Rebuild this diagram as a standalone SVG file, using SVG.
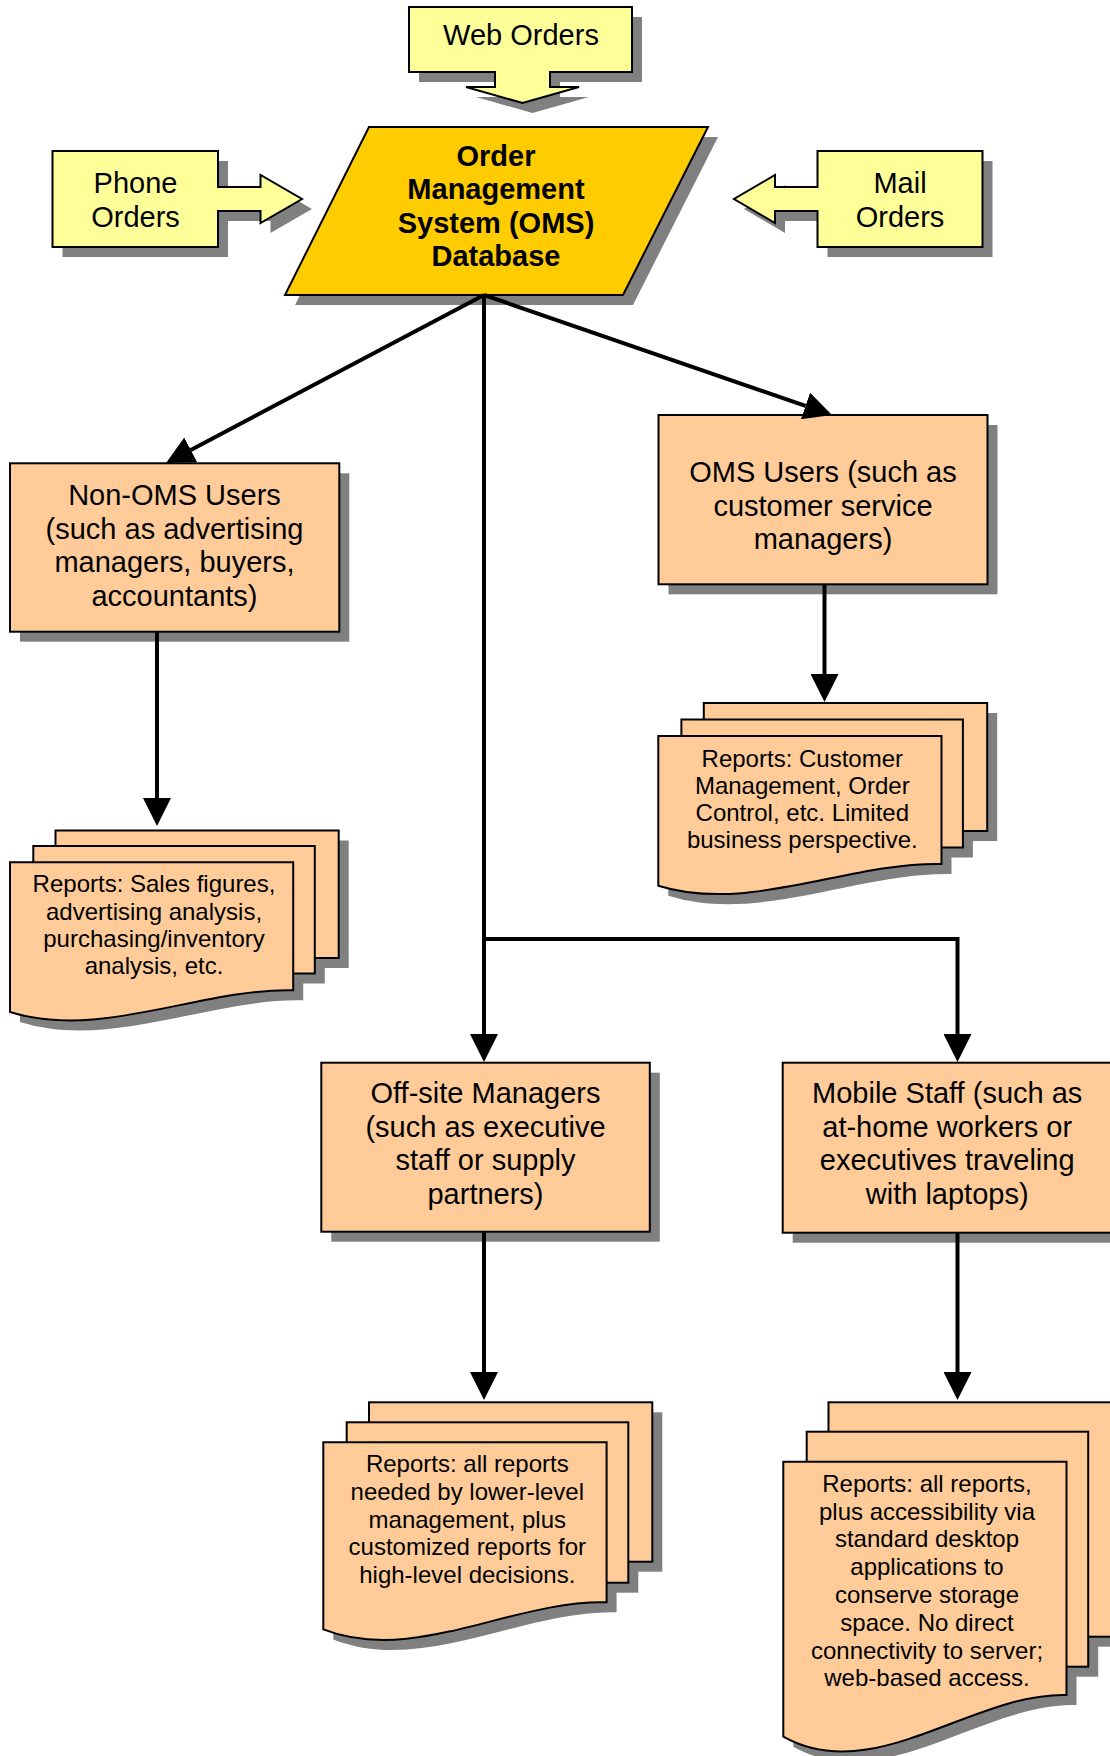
<svg xmlns="http://www.w3.org/2000/svg" xmlns:xlink="http://www.w3.org/1999/xlink" width="1110" height="1756" viewBox="0 0 1110 1756">
<style>
.sh{fill:#808080;stroke:none}
.box{fill:#FFCC99;stroke:#000;stroke-width:2}
.call{fill:#FFFF99;stroke:#000;stroke-width:2}
.db{fill:#FFCC00;stroke:#000;stroke-width:2}
text{font-family:"Liberation Sans",Arial,sans-serif;font-size:29px;text-anchor:middle;fill:#000}
.b{font-weight:bold}
.r{font-size:24px}
.conn{stroke:#000;stroke-width:4;fill:none;marker-end:url(#ah)}
</style>
<defs>
<marker id="ah" viewBox="0 0 28 28" markerUnits="userSpaceOnUse" markerWidth="28" markerHeight="28" refX="0" refY="14" orient="auto"><path d="M0,0 L28,14 L0,28 Z" fill="#000"/></marker>
<polygon id="p-web" points="409,7 632,7 632,72 550,72 550,87 579,87 522.5,103 466,87 495,87 495,72 409,72"/>
<polygon id="p-phone" points="52.5,151 218,151 218,187 260.5,187 260.5,175 302,199 260.5,223 260.5,211 218,211 218,247 52.5,247"/>
<polygon id="p-mail" points="982.5,151 817.5,151 817.5,187 775,187 775,175 734,199 775,223 775,211 817.5,211 817.5,247 982.5,247"/>
<polygon id="p-db" points="369,127 708,127 623,295 285,295"/>
<rect id="p-nonoms" x="10" y="463.3" width="329.3" height="168.4"/>
<rect id="p-oms" x="658.5" y="415" width="329" height="169.3"/>
<rect id="p-offsite" x="321.3" y="1062.7" width="328.5" height="169"/>
<rect id="p-mobile" x="782.7" y="1062.7" width="329" height="170"/>
<g id="p-repA">
<rect x="55.5" y="830.5" width="283.2" height="127.5"/>
<rect x="33.3" y="846" width="281.5" height="127.5"/>
<path d="M10,862.3 H293.2 V990.3 C199.6,988.3 100.6,1040.3 10,1012 Z"/>
</g>
<g id="p-repB">
<rect x="703.8" y="703" width="283.4" height="128"/>
<rect x="681.4" y="719.5" width="281.5" height="128"/>
<path d="M658.3,736 H941.5 V864 C848,862 748.9,914 658.3,885.7 Z"/>
</g>
<g id="p-repC">
<rect x="369" y="1402.3" width="283.3" height="159.4"/>
<rect x="346.7" y="1422.3" width="281.6" height="160.4"/>
<path d="M323.3,1442.3 H606.6 V1602.3 C513,1599.8 413.9,1664.8 323.3,1629.4 Z"/>
</g>
<g id="p-repD">
<rect x="828.5" y="1402.3" width="283.5" height="234.4"/>
<rect x="806.7" y="1431.7" width="281.5" height="235"/>
<path d="M783.3,1461.7 H1066.5 V1695 C973,1692.3 873.9,1787.4 783.3,1736.7 Z"/>
</g>
</defs>
<rect width="1110" height="1756" fill="#fff"/>

<g id="web-orders">
<use href="#p-web" class="sh" transform="translate(10,10)"/>
<use href="#p-web" class="call"/>
<text x="521" y="45">Web Orders</text>
</g>
<g id="phone-orders">
<use href="#p-phone" class="sh" transform="translate(10,10)"/>
<use href="#p-phone" class="call"/>
<text x="135.5" y="193">Phone</text>
<text x="135.5" y="226.5">Orders</text>
</g>
<g id="mail-orders">
<use href="#p-mail" class="sh" transform="translate(10,10)"/>
<use href="#p-mail" class="call"/>
<text x="900" y="193">Mail</text>
<text x="900" y="226.5">Orders</text>
</g>
<g id="oms-database">
<use href="#p-db" class="sh" transform="translate(10,10)"/>
<use href="#p-db" class="db"/>
<text class="b" x="496" y="165.5">Order</text>
<text class="b" x="496" y="199">Management</text>
<text class="b" x="496" y="232.5">System (OMS)</text>
<text class="b" x="496" y="266">Database</text>
</g>
<g id="non-oms-users">
<use href="#p-nonoms" class="sh" transform="translate(10,10)"/>
<use href="#p-nonoms" class="box"/>
<text x="174.5" y="505">Non-OMS Users</text>
<text x="174.5" y="538.5">(such as advertising</text>
<text x="174.5" y="572">managers, buyers,</text>
<text x="174.5" y="605.5">accountants)</text>
</g>
<g id="oms-users">
<use href="#p-oms" class="sh" transform="translate(10,10)"/>
<use href="#p-oms" class="box"/>
<text x="823" y="482">OMS Users (such as</text>
<text x="823" y="515.5">customer service</text>
<text x="823" y="549">managers)</text>
</g>
<g id="non-oms-reports">
<use href="#p-repA" class="sh" transform="translate(10,10)"/>
<use href="#p-repA" class="box"/>
<text class="r" x="154" y="892.3">Reports: Sales figures,</text>
<text class="r" x="154" y="919.5">advertising analysis,</text>
<text class="r" x="154" y="946.7">purchasing/inventory</text>
<text class="r" x="154" y="973.9">analysis, etc.</text>
</g>
<g id="oms-reports">
<use href="#p-repB" class="sh" transform="translate(10,10)"/>
<use href="#p-repB" class="box"/>
<text class="r" x="802.3" y="766.5">Reports: Customer</text>
<text class="r" x="802.3" y="793.5">Management, Order</text>
<text class="r" x="802.3" y="820.5">Control, etc. Limited</text>
<text class="r" x="802.3" y="847.5">business perspective.</text>
</g>
<g id="offsite-managers">
<use href="#p-offsite" class="sh" transform="translate(10,10)"/>
<use href="#p-offsite" class="box"/>
<text x="485.5" y="1103">Off-site Managers</text>
<text x="485.5" y="1136.5">(such as executive</text>
<text x="485.5" y="1170">staff or supply</text>
<text x="485.5" y="1203.5">partners)</text>
</g>
<g id="mobile-staff">
<use href="#p-mobile" class="sh" transform="translate(10,10)"/>
<use href="#p-mobile" class="box"/>
<text x="947.2" y="1103">Mobile Staff (such as</text>
<text x="947.2" y="1136.5">at-home workers or</text>
<text x="947.2" y="1170">executives traveling</text>
<text x="947.2" y="1203.5">with laptops)</text>
</g>
<g id="offsite-reports">
<use href="#p-repC" class="sh" transform="translate(10,10)"/>
<use href="#p-repC" class="box"/>
<text class="r" x="467.3" y="1472">Reports: all reports</text>
<text class="r" x="467.3" y="1499.8">needed by lower-level</text>
<text class="r" x="467.3" y="1527.6">management, plus</text>
<text class="r" x="467.3" y="1555.4">customized reports for</text>
<text class="r" x="467.3" y="1583.2">high-level decisions.</text>
</g>
<g id="mobile-reports">
<use href="#p-repD" class="sh" transform="translate(10,10)"/>
<use href="#p-repD" class="box"/>
<text class="r" x="927" y="1491.7">Reports: all reports,</text>
<text class="r" x="927" y="1519.5">plus accessibility via</text>
<text class="r" x="927" y="1547.3">standard desktop</text>
<text class="r" x="927" y="1575.1">applications to</text>
<text class="r" x="927" y="1602.9">conserve storage</text>
<text class="r" x="927" y="1630.7">space. No direct</text>
<text class="r" x="927" y="1658.5">connectivity to server;</text>
<text class="r" x="927" y="1686.3">web-based access.</text>
</g>

<g id="connectors">
<line class="conn" x1="484" y1="295" x2="190.8" y2="449.9"/>
<line class="conn" x1="484" y1="295" x2="805.5" y2="405.9"/>
<line class="conn" x1="484" y1="295" x2="484" y2="1034"/>
<path class="conn" d="M484,939 H957.5 V1034"/>
<line class="conn" x1="157" y1="632" x2="157" y2="798"/>
<line class="conn" x1="824.5" y1="584" x2="824.5" y2="674"/>
<line class="conn" x1="484" y1="1232" x2="484" y2="1372"/>
<line class="conn" x1="957.5" y1="1233" x2="957.5" y2="1372"/>
</g>
</svg>
